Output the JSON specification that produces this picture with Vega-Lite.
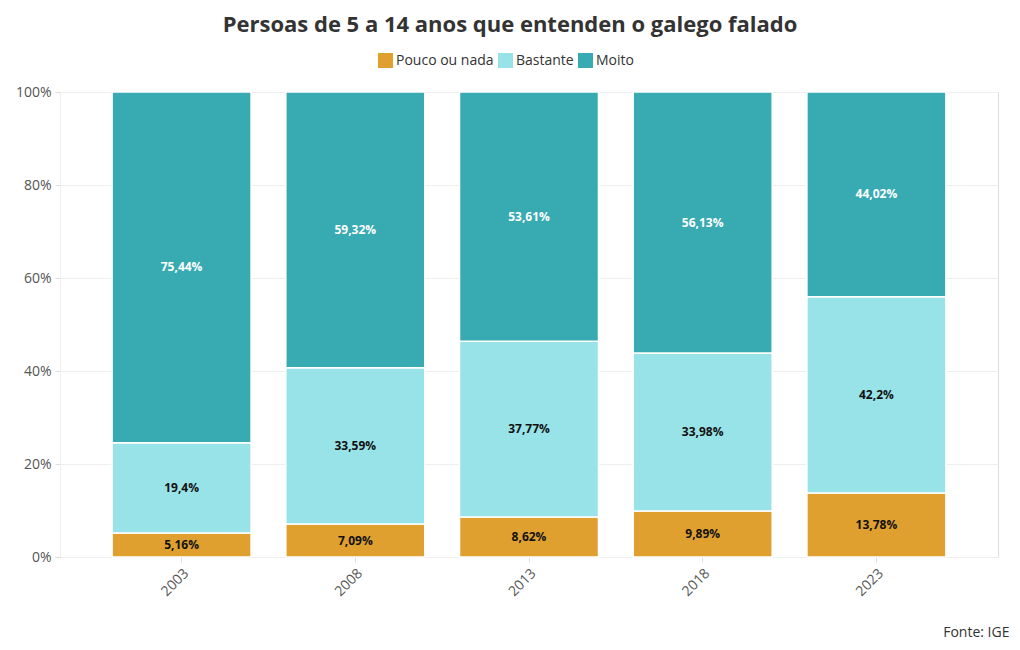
{
  "$schema": "https://vega.github.io/schema/vega-lite/v6.json",
  "width": 938,
  "height": 465,
  "autosize": "none",
  "padding": {"left": 60, "top": 92, "right": 22, "bottom": 93},
  "background": "white",
  "title": {
    "text": "Persoas de 5 a 14 anos que entenden o galego falado",
    "fontSize": 22,
    "fontWeight": "bold",
    "font": "Open Sans",
    "color": "#333333",
    "anchor": "middle",
    "frame": "group",
    "dx": -19,
    "offset": 16
  },
  "data": {
    "values": [
      {"year": "2003", "cat": "Pouco ou nada", "k": 1, "value": 5.16},
      {"year": "2003", "cat": "Bastante", "k": 2, "value": 19.4},
      {"year": "2003", "cat": "Moito", "k": 3, "value": 75.44},
      {"year": "2008", "cat": "Pouco ou nada", "k": 1, "value": 7.09},
      {"year": "2008", "cat": "Bastante", "k": 2, "value": 33.59},
      {"year": "2008", "cat": "Moito", "k": 3, "value": 59.32},
      {"year": "2013", "cat": "Pouco ou nada", "k": 1, "value": 8.62},
      {"year": "2013", "cat": "Bastante", "k": 2, "value": 37.77},
      {"year": "2013", "cat": "Moito", "k": 3, "value": 53.61},
      {"year": "2018", "cat": "Pouco ou nada", "k": 1, "value": 9.89},
      {"year": "2018", "cat": "Bastante", "k": 2, "value": 33.98},
      {"year": "2018", "cat": "Moito", "k": 3, "value": 56.13},
      {"year": "2023", "cat": "Pouco ou nada", "k": 1, "value": 13.78},
      {"year": "2023", "cat": "Bastante", "k": 2, "value": 42.2},
      {"year": "2023", "cat": "Moito", "k": 3, "value": 44.02}
    ]
  },
  "transform": [
    {"stack": "value", "groupby": ["year"], "sort": [{"field": "k", "order": "ascending"}], "as": ["v0", "v1"]},
    {"calculate": "(datum.v0 + datum.v1) / 2", "as": "mid"},
    {"calculate": "replace(format(datum.value, '~r'), '.', ',') + '%'", "as": "label"}
  ],
  "encoding": {
    "x": {
      "field": "year",
      "type": "nominal",
      "scale": {"paddingInner": 0.2, "paddingOuter": 0.3},
      "axis": {
        "labelAngle": -45,
        "labelFontSize": 14,
        "labelColor": "#555555",
        "labelFont": "Open Sans",
        "domain": false,
        "tickColor": "#dddddd",
        "tickSize": 5,
        "labelPadding": 4,
        "title": "Fonte: IGE",
        "titleFont": "Open Sans",
        "titleFontSize": 14,
        "titleFontWeight": "normal",
        "titleColor": "#333333",
        "titleAnchor": "end",
        "titleAlign": "right",
        "titleX": 949,
        "titleY": 68
      }
    }
  },
  "layer": [
    {
      "mark": {"type": "bar", "stroke": "white", "strokeWidth": 1.5},
      "encoding": {
        "y": {
          "field": "v0",
          "type": "quantitative",
          "scale": {"domain": [0, 100]},
          "axis": {
            "values": [0, 20, 40, 60, 80, 100],
            "labelExpr": "datum.value + '%'",
            "labelFontSize": 14,
            "labelColor": "#555555",
            "labelFont": "Open Sans",
            "gridColor": "#eeeeee",
            "domainColor": "#eeeeee",
            "tickColor": "#dddddd",
            "tickSize": 5,
            "labelPadding": 4,
            "title": null
          }
        },
        "y2": {"field": "v1"},
        "color": {
          "field": "cat",
          "type": "nominal",
          "sort": ["Pouco ou nada", "Bastante", "Moito"],
          "scale": {"domain": ["Pouco ou nada", "Bastante", "Moito"], "range": ["#E0A030", "#98E3E8", "#38AAB2"]},
          "legend": {
            "title": null,
            "orient": "none",
            "direction": "horizontal",
            "legendX": 318,
            "legendY": -39,
            "labelFont": "Open Sans",
            "labelFontSize": 14,
            "labelColor": "#333333",
            "labelOffset": 3,
            "columnPadding": 4,
            "symbolType": "square",
            "symbolSize": 225,
            "symbolStrokeWidth": 0,
            "symbolOpacity": 1,
            "symbolCornerRadius": 3
          }
        }
      }
    },
    {
      "mark": {"type": "text", "font": "Open Sans", "fontSize": 12, "fontWeight": "bold"},
      "encoding": {
        "y": {"field": "mid", "type": "quantitative"},
        "text": {"field": "label"},
        "color": {
          "condition": {"test": "datum.k === 3", "value": "white"},
          "value": "#111111"
        }
      }
    }
  ]
}
